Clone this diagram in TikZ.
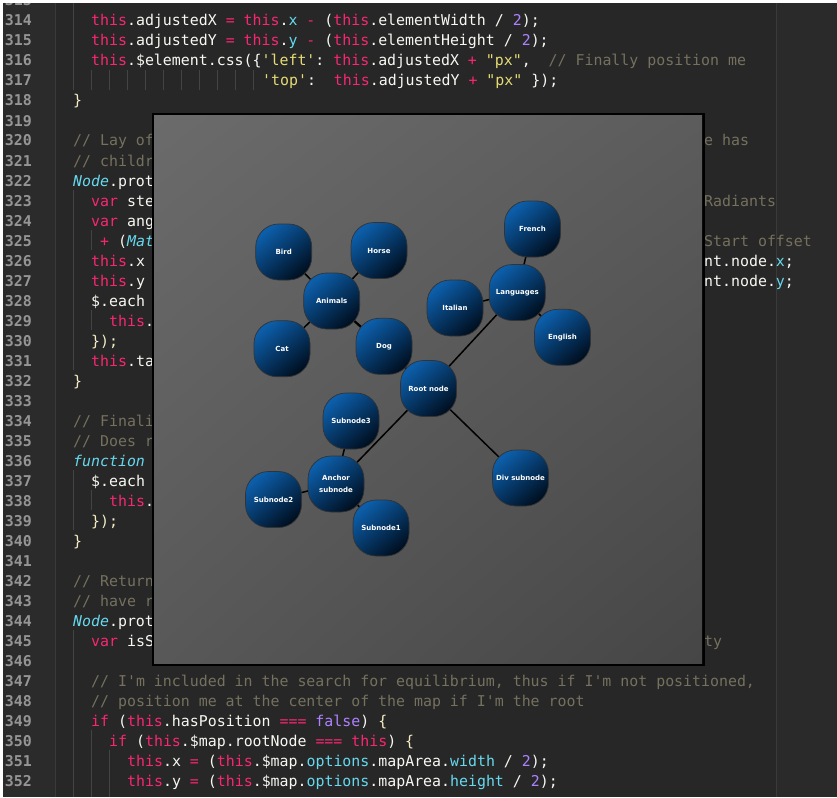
\documentclass[tikz,border=0pt]{standalone}
\usepackage{fontspec}
\usetikzlibrary{shadings}
\setmonofont{DejaVu Sans Mono}
\newfontfamily\nodefont{DejaVu Sans}
\frenchspacing
\definecolor{edbg}{HTML}{272727}
\definecolor{gutbg}{HTML}{2B2B2B}
\definecolor{rtbg}{HTML}{2A2A2A}
\definecolor{sepc}{HTML}{3A3A3A}
\definecolor{guidec}{HTML}{444444}
\definecolor{lnc}{HTML}{959595}
\definecolor{txc}{HTML}{F8F8F2}
\definecolor{kwc}{HTML}{F92672}
\definecolor{cyc}{HTML}{66D9EF}
\definecolor{numc}{HTML}{AE81FF}
\definecolor{strc}{HTML}{E6DB74}
\definecolor{cmc}{HTML}{75715E}
\definecolor{brc}{HTML}{F4EDC4}
\definecolor{nodetop}{RGB}{12,94,170}
\definecolor{nodebot}{RGB}{0,16,34}
\definecolor{pnUL}{HTML}{6B6B6B}
\definecolor{pnUR}{HTML}{5C5C5C}
\definecolor{pnLL}{HTML}{585858}
\definecolor{pnLR}{HTML}{464646}
\newcommand\ckw[1]{\textcolor{kwc}{#1}}
\newcommand\ccy[1]{\textcolor{cyc}{#1}}
\newcommand\cit[1]{\textcolor{cyc}{\itshape #1}}
\newcommand\cnum[1]{\textcolor{numc}{#1}}
\newcommand\cst[1]{\textcolor{strc}{#1}}
\newcommand\ccm[1]{\textcolor{cmc}{#1}}
\newcommand\cbr[1]{\textcolor{brc}{#1}}
\pgfdeclarelayer{bgl}
\pgfdeclarelayer{edgel}
\pgfsetlayers{bgl,edgel,main}
\tikzset{
  code/.style={anchor=base west, inner sep=0pt, text=txc, font=\ttfamily\fontsize{14.9}{18}\selectfont},
  lnum/.style={anchor=base east, inner sep=0pt, text=lnc, font=\ttfamily\bfseries\fontsize{14.9}{18}\selectfont},
  guide/.style={draw=guidec, line width=0.8pt},
  mm/.style={rectangle, rounded corners=23pt, minimum width=56pt, minimum height=56pt,
    draw=black!80, line width=0.7pt, top color=nodetop, bottom color=nodebot, shading angle=40,
    text=white, font=\nodefont\bfseries\fontsize{7}{11.5}\selectfont, align=center, inner sep=0pt},
  edge/.style={draw=black, line width=1.5pt}
}
\newcommand\codeat[4]{\node (#3) [code] at (#2,{26+(#1-314)*20}) {#4};}
\begin{document}
\begin{tikzpicture}[x=1pt,y=-1pt]
\useasboundingbox (0,0) rectangle (837,797);
\begin{pgfonlayer}{bgl}
% editor background
\fill[edbg] (0,0) rectangle (837,797);
\fill[gutbg] (3,3) rectangle (55,797);
\fill[rtbg] (776,3) rectangle (837,797);
\draw[sepc, line width=0.8pt] (55,3) -- (55,797);
\draw[sepc, line width=0.8pt] (776,3) -- (776,797);
% line numbers
\foreach \n in {313,...,352} { \node (ln\n) [lnum] at (32,{26+(\n-314)*20}) {\n}; }
% indent guides
\draw[guide] (73,0) -- (73,90);
\foreach \gx in {91,109,...,253} { \draw[guide] (\gx,70) -- (\gx,90); }
\draw[guide] (73,190) -- (73,370);
\draw[guide] (91,230) -- (91,250);
\draw[guide] (91,310) -- (91,330);
\draw[guide] (73,470) -- (73,530);
\draw[guide] (91,490) -- (91,510);
\draw[guide] (73,630) -- (73,797);
\draw[guide] (91,730) -- (91,797);
\draw[guide] (109,750) -- (109,797);
% code lines
\codeat{314}{91}{c314}{\ckw{this}.adjustedX \ckw{=} \ckw{this}.\ccy{x} \ckw{-} (\ckw{this}.elementWidth / \cnum{2});}
\codeat{315}{91}{c315}{\ckw{this}.adjustedY \ckw{=} \ckw{this}.\ccy{y} \ckw{-} (\ckw{this}.elementHeight / \cnum{2});}
\codeat{316}{91}{c316}{\ckw{this}.\$element.css(\{\cst{'left'}: \ckw{this}.adjustedX \ckw{+} \cst{"px"},~~\ccm{// Finally position me}}
\codeat{317}{262}{c317}{\cst{'top'}:~~\ckw{this}.adjustedY \ckw{+} \cst{"px"} \});}
\codeat{318}{73}{c318}{\cbr{\}}}
\codeat{320}{73}{c320}{\ccm{// Lay of}}
\codeat{321}{73}{c321}{\ccm{// childr}}
\codeat{322}{73}{c322}{\cit{Node}.prot}
\codeat{323}{91}{c323}{\ckw{var} ste}
\codeat{324}{91}{c324}{\ckw{var} ang}
\codeat{325}{100}{c325}{\ckw{+} (\cit{Mat}}
\codeat{326}{91}{c326}{\ckw{this}.x}
\codeat{327}{91}{c327}{\ckw{this}.y}
\codeat{328}{91}{c328}{\$.each}
\codeat{329}{109}{c329}{\ckw{this}.}
\codeat{330}{91}{c330}{\cbr{\});}}
\codeat{331}{91}{c331}{\ckw{this}.ta}
\codeat{332}{73}{c332}{\cbr{\}}}
\codeat{334}{73}{c334}{\ccm{// Finali}}
\codeat{335}{73}{c335}{\ccm{// Does r}}
\codeat{336}{73}{c336}{\cit{function}}
\codeat{337}{91}{c337}{\$.each}
\codeat{338}{109}{c338}{\ckw{this}.}
\codeat{339}{91}{c339}{\cbr{\});}}
\codeat{340}{73}{c340}{\cbr{\}}}
\codeat{342}{73}{c342}{\ccm{// Return}}
\codeat{343}{73}{c343}{\ccm{// have r}}
\codeat{344}{73}{c344}{\cit{Node}.prot}
\codeat{345}{91}{c345}{\ckw{var} isS}
\codeat{347}{91}{c347}{\ccm{// I'm included in the search for equilibrium, thus if I'm not positioned,}}
\codeat{348}{91}{c348}{\ccm{// position me at the center of the map if I'm the root}}
\codeat{349}{91}{c349}{\ckw{if} (\ckw{this}.hasPosition \ckw{===} \cnum{false}) \cbr{\{}}
\codeat{350}{109}{c350}{\ckw{if} (\ckw{this}.\$map.rootNode \ckw{===} \ckw{this}) \cbr{\{}}
\codeat{351}{127}{c351}{\ckw{this}.x \ckw{=} (\ckw{this}.\$map.\ccy{options}.mapArea.\ccy{width} / \cnum{2});}
\codeat{352}{127}{c352}{\ckw{this}.y \ckw{=} (\ckw{this}.\$map.\ccy{options}.mapArea.\ccy{height} / \cnum{2});}
% right-hand fragments
\codeat{320}{704}{r320}{\ccm{e has}}
\codeat{323}{704}{r323}{\ccm{Radiants}}
\codeat{325}{704}{r325}{\ccm{Start offset}}
\codeat{326}{704}{r326}{nt.node.\ccy{x};}
\codeat{327}{704}{r327}{nt.node.\ccy{y};}
\codeat{345}{704}{r345}{\ccm{ty}}
% top / left white strip
\fill[white] (0,0) rectangle (837,3);
\fill[white] (0,0) rectangle (3,797);
% map panel
\fill[black] (151.5,113) rectangle (704.5,665.5);
\shade[upper left=pnUL, upper right=pnUR, lower left=pnLL, lower right=pnLR] (154,115.5) rectangle (702,663);
\end{pgfonlayer}
% mind map nodes
\node (root) [mm] at (428.5,388.5) {Root node};
\node (animals) [mm] at (331.7,301) {Animals};
\node (bird) [mm] at (283.7,252) {Bird};
\node (horse) [mm] at (379,250.5) {Horse};
\node (cat) [mm] at (282,348.7) {Cat};
\node (dog) [mm] at (384,346.3) {Dog};
\node (lang) [mm] at (517.3,292.5) {Languages};
\node (french) [mm] at (532.5,229) {French};
\node (italian) [mm] at (455,308) {Italian};
\node (english) [mm] at (562.5,337.3) {English};
\node (sub3) [mm] at (351,421) {Subnode3};
\node (anchor) [mm] at (336,484) {Anchor\\subnode};
\node (sub2) [mm] at (273.5,499.5) {Subnode2};
\node (sub1) [mm] at (381,528) {Subnode1};
\node (div) [mm] at (520.5,478) {Div subnode};
\begin{pgfonlayer}{edgel}
\draw[edge] (root.center) -- (animals.center);
\draw[edge] (root.center) -- (lang.center);
\draw[edge] (root.center) -- (div.center);
\draw[edge] (root.center) -- (anchor.center);
\draw[edge] (animals.center) -- (bird.center);
\draw[edge] (animals.center) -- (horse.center);
\draw[edge] (animals.center) -- (cat.center);
\draw[edge] (animals.center) -- (dog.center);
\draw[edge] (lang.center) -- (french.center);
\draw[edge] (lang.center) -- (italian.center);
\draw[edge] (lang.center) -- (english.center);
\draw[edge] (anchor.center) -- (sub3.center);
\draw[edge] (anchor.center) -- (sub2.center);
\draw[edge] (anchor.center) -- (sub1.center);
\end{pgfonlayer}
\end{tikzpicture}
\end{document}
